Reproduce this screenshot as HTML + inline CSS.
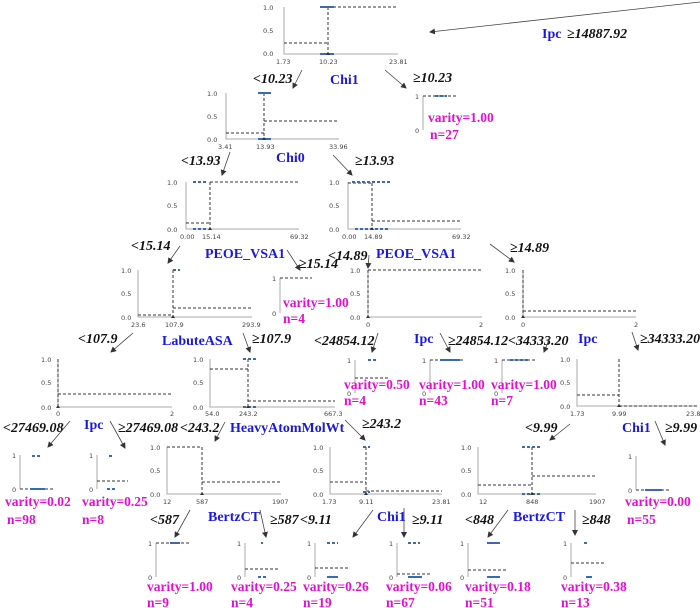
<!DOCTYPE html>
<html><head><meta charset="utf-8"><style>
html,body{margin:0;padding:0;background:#fff}
svg{display:block}
.t{font-family:"DejaVu Sans",sans-serif;font-size:6.5px;fill:#444}
.c{font-family:"Liberation Serif",serif;font-weight:bold;font-style:italic;font-size:14px;fill:#111}
.b{font-family:"Liberation Serif",serif;font-weight:bold;font-size:14px;fill:#1a1adc}
.m{font-family:"Liberation Serif",serif;font-weight:bold;font-size:13.5px;fill:#e010d0}
.ax{stroke:#aaa;stroke-width:1;fill:none}
.d{stroke:#333;stroke-width:1;stroke-dasharray:3,2;fill:none}
.bl{stroke:#3a6ab0;stroke-width:2;stroke-dasharray:3,2}
.ar{stroke:#444;stroke-width:0.8;fill:none;marker-end:url(#h)}
</style></head><body>
<svg width="700" height="608" viewBox="0 0 700 608" xmlns="http://www.w3.org/2000/svg">
<defs><marker id="h" markerWidth="6" markerHeight="6" refX="5" refY="3" orient="auto" markerUnits="userSpaceOnUse"><path d="M0,0 L6,3 L0,6 z" fill="#333"/></marker></defs>

<!-- root chart Chi1 -->
<path class="ax" d="M284,7 V54 H398"/>
<text class="t" x="263" y="10">1.0</text><text class="t" x="263" y="33">0.5</text><text class="t" x="263" y="56">0.0</text>
<text class="t" x="276" y="64">1.73</text><text class="t" x="319" y="64">10.23</text><text class="t" x="389" y="64">23.81</text>
<path class="d" d="M284,43 H328 M328,7 V54 M328,7 H398"/>
<line class="bl" x1="320" y1="7" x2="334" y2="7" style="stroke-dasharray:none"/><line class="bl" x1="320" y1="54" x2="334" y2="54" style="stroke-dasharray:none"/>
<path d="M328,52 l-2,3 h4z" fill="#333"/>
<line class="ar" x1="700" y1="2" x2="430" y2="32"/>
<text class="b" x="542" y="38">Ipc</text><text class="c" x="567" y="38">≥14887.92</text>
<text class="b" x="330" y="84">Chi1</text>
<text class="c" x="253" y="83">&lt;10.23</text><line class="ar" x1="302" y1="70" x2="293" y2="88"/>
<text class="c" x="413" y="82">≥10.23</text><line class="ar" x1="385" y1="70" x2="406" y2="88"/>

<!-- leaf >=10.23 -->
<path class="ax" d="M423,96 V130"/><text class="t" x="415" y="99">1</text><text class="t" x="415" y="133">0</text>
<path class="d" d="M423,96 H457"/><line class="bl" x1="435" y1="96" x2="447" y2="96"/>
<text class="m" x="428" y="122">varity=1.00</text><text class="m" x="430" y="139">n=27</text>

<!-- Chi0 chart -->
<path class="ax" d="M226,93 V139 H339"/>
<text class="t" x="207" y="96">1.0</text><text class="t" x="207" y="119">0.5</text><text class="t" x="207" y="142">0.0</text>
<text class="t" x="218" y="149">3.41</text><text class="t" x="256" y="149">13.93</text><text class="t" x="329" y="149">33.96</text>
<path class="d" d="M226,133 H264 M264,93 V139 M264,121 H339"/>
<line class="bl" x1="258" y1="93" x2="271" y2="93" style="stroke-dasharray:none"/><line class="bl" x1="258" y1="139" x2="271" y2="139" style="stroke-dasharray:none"/>
<path d="M264,137 l-2,3 h4z" fill="#333"/>
<text class="b" x="276" y="162">Chi0</text>
<text class="c" x="181" y="165">&lt;13.93</text><line class="ar" x1="230" y1="152" x2="222" y2="175"/>
<text class="c" x="355" y="165">≥13.93</text><line class="ar" x1="333" y1="155" x2="352" y2="175"/>

<!-- PEOE left -->
<path class="ax" d="M186,182 V229 H299"/>
<text class="t" x="167" y="185">1.0</text><text class="t" x="167" y="208">0.5</text><text class="t" x="167" y="232">0.0</text>
<text class="t" x="180" y="239">0.00</text><text class="t" x="202" y="239">15.14</text><text class="t" x="290" y="239">69.32</text>
<path class="d" d="M186,223 H210 M210,182 V229 M210,182 H299"/>
<line class="bl" x1="193" y1="182" x2="206" y2="182"/><line class="bl" x1="193" y1="229" x2="206" y2="229"/>
<path d="M210,227 l-2,3 h4z" fill="#333"/>
<text class="b" x="205" y="258">PEOE_VSA1</text>
<text class="c" x="131" y="250">&lt;15.14</text><line class="ar" x1="180" y1="246" x2="168" y2="263"/>
<text class="c" x="299" y="268">≥15.14</text><line class="ar" x1="287" y1="250" x2="300" y2="270"/>

<!-- PEOE right -->
<path class="ax" d="M348,182 V229 H461"/>
<text class="t" x="329" y="185">1.0</text><text class="t" x="329" y="208">0.5</text><text class="t" x="329" y="232">0.0</text>
<text class="t" x="342" y="239">0.00</text><text class="t" x="364" y="239">14.89</text><text class="t" x="452" y="239">69.32</text>
<path class="d" d="M348,183 H372 M372,183 V229 M372,221 H461"/>
<line class="bl" x1="352" y1="182" x2="390" y2="182"/><line class="bl" x1="355" y1="229" x2="390" y2="229"/>
<path d="M372,227 l-2,3 h4z" fill="#333"/>
<text class="b" x="376" y="258">PEOE_VSA1</text>
<text class="c" x="328" y="260">&lt;14.89</text><line class="ar" x1="369" y1="255" x2="368" y2="268"/>
<text class="c" x="510" y="252">≥14.89</text><line class="ar" x1="490" y1="244" x2="514" y2="262"/>

<!-- LabuteASA chart -->
<path class="ax" d="M138,270 V317 H252"/>
<text class="t" x="121" y="273">1.0</text><text class="t" x="121" y="296">0.5</text><text class="t" x="121" y="320">0.0</text>
<text class="t" x="131" y="327">23.6</text><text class="t" x="165" y="327">107.9</text><text class="t" x="242" y="327">293.9</text>
<path class="d" d="M138,315 H173 M173,270 V317 M173,308 H252"/>
<line class="bl" x1="173" y1="270" x2="180" y2="270"/>
<path d="M173,315 l-2,3 h4z" fill="#333"/>
<text class="b" x="162" y="345">LabuteASA</text>
<text class="c" x="78" y="343">&lt;107.9</text><line class="ar" x1="133" y1="333" x2="111" y2="352"/>
<text class="c" x="252" y="343">≥107.9</text><line class="ar" x1="243" y1="333" x2="250" y2="352"/>

<!-- leaf >=15.14 -->
<path class="ax" d="M280,278 V313"/><text class="t" x="272" y="281">1</text><text class="t" x="272" y="316">0</text>
<path class="d" d="M280,278 H312"/>
<text class="m" x="283" y="307">varity=1.00</text><text class="m" x="283" y="323">n=4</text>

<!-- PEOE<14.89 chart -->
<path class="ax" d="M368,270 V317 H482"/>
<text class="t" x="350" y="273">1.0</text><text class="t" x="350" y="296">0.5</text><text class="t" x="350" y="320">0.0</text>
<text class="t" x="366" y="327">0</text><text class="t" x="479" y="327">2</text>
<path class="d" d="M368,270 H482 M368,270 V317"/>
<path d="M368,315 l-2,3 h4z" fill="#333"/>

<!-- Ipc >=14.89 chart -->
<path class="ax" d="M523,270 V317 H636"/>
<text class="t" x="505" y="273">1.0</text><text class="t" x="505" y="296">0.5</text><text class="t" x="505" y="320">0.0</text>
<text class="t" x="521" y="327">0</text><text class="t" x="634" y="327">2</text>
<path class="d" d="M523,311 H636 M523,270 V317"/>
<path d="M523,315 l-2,3 h4z" fill="#333"/>

<!-- labels row 5 -->
<text class="c" x="314" y="345">&lt;24854.12</text><line class="ar" x1="378" y1="333" x2="372" y2="352"/>
<text class="b" x="414" y="343">Ipc</text>
<text class="c" x="448" y="345">≥24854.12</text><line class="ar" x1="440" y1="333" x2="450" y2="352"/>
<text class="c" x="508" y="345">&lt;34333.20</text><line class="ar" x1="550" y1="337" x2="544" y2="352"/>
<text class="b" x="578" y="343">Ipc</text>
<text class="c" x="640" y="343">≥34333.20</text><line class="ar" x1="632" y1="332" x2="638" y2="350"/>

<!-- chart I -->
<path class="ax" d="M58,359 V407 H172"/>
<text class="t" x="41" y="362">1.0</text><text class="t" x="41" y="385">0.5</text><text class="t" x="41" y="410">0.0</text>
<text class="t" x="56" y="416">0</text><text class="t" x="170" y="416">2</text>
<path class="d" d="M58,394 H172 M58,359 V407"/>
<path d="M58,405 l-2,3 h4z" fill="#333"/>

<!-- chart J -->
<path class="ax" d="M210,359 V407 H335"/>
<text class="t" x="193" y="362">1.0</text><text class="t" x="193" y="385">0.5</text><text class="t" x="193" y="410">0.0</text>
<text class="t" x="205" y="416">54.0</text><text class="t" x="239" y="416">243.2</text><text class="t" x="324" y="416">667.3</text>
<path class="d" d="M210,369 H248 M248,359 V407 M248,401 H335"/>
<line class="bl" x1="243" y1="359" x2="256" y2="359"/><line class="bl" x1="243" y1="407" x2="256" y2="407"/>
<path d="M248,405 l-2,3 h4z" fill="#333"/>

<!-- leaves from Ipc -->
<path class="ax" d="M355,360 V393"/><text class="t" x="347" y="363">1</text><text class="t" x="347" y="396">0</text>
<path class="d" d="M355,378 H390"/><line class="bl" x1="368" y1="360" x2="376" y2="360"/>
<text class="m" x="344" y="389">varity=0.50</text><text class="m" x="344" y="405">n=4</text>
<path class="ax" d="M430,360 V393"/><text class="t" x="422" y="363">1</text><text class="t" x="422" y="396">0</text>
<path class="d" d="M430,360 H465"/><line class="bl" x1="440" y1="360" x2="460" y2="360" style="stroke-dasharray:none"/>
<text class="m" x="419" y="389">varity=1.00</text><text class="m" x="419" y="405">n=43</text>
<path class="ax" d="M502,360 V393"/><text class="t" x="494" y="363">1</text><text class="t" x="494" y="396">0</text>
<path class="d" d="M502,360 H535"/><line class="bl" x1="510" y1="360" x2="528" y2="360"/>
<text class="m" x="491" y="389">varity=1.00</text><text class="m" x="491" y="405">n=7</text>

<!-- chart L -->
<path class="ax" d="M577,359 V406 H697"/>
<text class="t" x="560" y="362">1.0</text><text class="t" x="560" y="385">0.5</text><text class="t" x="560" y="409">0.0</text>
<text class="t" x="570" y="416">1.73</text><text class="t" x="612" y="416">9.99</text><text class="t" x="686" y="416">23.81</text>
<path class="d" d="M577,395 H619 M619,359 V406 M619,406 H697"/>
<path d="M619,404 l-2,3 h4z" fill="#333"/>

<!-- row 6 labels -->
<text class="c" x="3" y="432">&lt;27469.08</text><line class="ar" x1="70" y1="421" x2="48" y2="447"/>
<text class="b" x="84" y="429">Ipc</text>
<text class="c" x="118" y="432">≥27469.08</text><line class="ar" x1="110" y1="421" x2="125" y2="448"/>
<text class="c" x="180" y="432">&lt;243.2</text><line class="ar" x1="225" y1="422" x2="215" y2="441"/>
<text class="b" x="230" y="432">HeavyAtomMolWt</text>
<text class="c" x="362" y="428">≥243.2</text><line class="ar" x1="345" y1="420" x2="365" y2="440"/>
<text class="c" x="525" y="432">&lt;9.99</text><line class="ar" x1="570" y1="424" x2="550" y2="440"/>
<text class="b" x="622" y="432">Chi1</text>
<text class="c" x="665" y="432">≥9.99</text><line class="ar" x1="655" y1="421" x2="665" y2="445"/>

<!-- leaves M N -->
<path class="ax" d="M20,455 V489"/><text class="t" x="12" y="458">1</text><text class="t" x="12" y="492">0</text>
<path class="d" d="M20,489 H53"/><line class="bl" x1="32" y1="456" x2="42" y2="456"/><line class="bl" x1="30" y1="489" x2="45" y2="489" style="stroke-dasharray:none"/>
<text class="m" x="5" y="506">varity=0.02</text><text class="m" x="7" y="524">n=98</text>
<path class="ax" d="M97,455 V489"/><text class="t" x="89" y="458">1</text><text class="t" x="89" y="492">0</text>
<path class="d" d="M97,481 H128"/><line class="bl" x1="109" y1="456" x2="114" y2="456"/><line class="bl" x1="107" y1="489" x2="116" y2="489"/>
<text class="m" x="82" y="506">varity=0.25</text><text class="m" x="82" y="524">n=8</text>

<!-- chart O -->
<path class="ax" d="M167,447 V494 H281"/>
<text class="t" x="150" y="450">1.0</text><text class="t" x="150" y="473">0.5</text><text class="t" x="150" y="497">0.0</text>
<text class="t" x="163" y="504">12</text><text class="t" x="196" y="504">587</text><text class="t" x="272" y="504">1907</text>
<path class="d" d="M167,447 H202 M202,447 V494 M202,482 H281"/>
<path d="M202,492 l-2,3 h4z" fill="#333"/>

<!-- chart P -->
<path class="ax" d="M330,447 V494 H442"/>
<text class="t" x="313" y="450">1.0</text><text class="t" x="313" y="473">0.5</text><text class="t" x="313" y="497">0.0</text>
<text class="t" x="322" y="504">1.73</text><text class="t" x="359" y="504">9.11</text><text class="t" x="432" y="504">23.81</text>
<path class="d" d="M330,482 H366 M366,447 V494 M366,491 H442"/>
<line class="bl" x1="363" y1="447" x2="370" y2="447"/><line class="bl" x1="363" y1="492" x2="370" y2="492"/>
<path d="M366,492 l-2,3 h4z" fill="#333"/>

<!-- chart Q -->
<path class="ax" d="M478,447 V494 H596"/>
<text class="t" x="461" y="450">1.0</text><text class="t" x="461" y="473">0.5</text><text class="t" x="461" y="497">0.0</text>
<text class="t" x="479" y="504">12</text><text class="t" x="526" y="504">848</text><text class="t" x="589" y="504">1907</text>
<path class="d" d="M478,485 H532 M532,447 V494 M532,476 H596"/>
<line class="bl" x1="522" y1="447" x2="540" y2="447"/><line class="bl" x1="522" y1="494" x2="540" y2="494"/>
<path d="M532,492 l-2,3 h4z" fill="#333"/>

<!-- leaf R -->
<path class="ax" d="M636,456 V490"/><text class="t" x="628" y="459">1</text><text class="t" x="628" y="493">0</text>
<path class="d" d="M636,490 H671"/><line class="bl" x1="645" y1="490" x2="662" y2="490" style="stroke-dasharray:none"/>
<text class="m" x="625" y="506">varity=0.00</text><text class="m" x="627" y="524">n=55</text>

<!-- row 7 labels -->
<text class="c" x="150" y="524">&lt;587</text><line class="ar" x1="190" y1="510" x2="175" y2="537"/>
<text class="b" x="208" y="521">BertzCT</text>
<text class="c" x="270" y="524">≥587</text><line class="ar" x1="260" y1="510" x2="266" y2="537"/>
<text class="c" x="300" y="524">&lt;9.11</text><line class="ar" x1="373" y1="510" x2="353" y2="537"/>
<text class="b" x="377" y="521">Chi1</text>
<text class="c" x="412" y="524">≥9.11</text><line class="ar" x1="404" y1="508" x2="404" y2="537"/>
<text class="c" x="465" y="524">&lt;848</text><line class="ar" x1="508" y1="510" x2="488" y2="537"/>
<text class="b" x="513" y="521">BertzCT</text>
<text class="c" x="582" y="524">≥848</text><line class="ar" x1="575" y1="510" x2="575" y2="535"/>

<!-- bottom leaves -->
<path class="ax" d="M156,543 V577"/><text class="t" x="148" y="546">1</text><text class="t" x="148" y="580">0</text>
<path class="d" d="M156,543 H190"/><line class="bl" x1="170" y1="543" x2="180" y2="543" style="stroke-dasharray:none"/>
<text class="m" x="147" y="591">varity=1.00</text><text class="m" x="147" y="607">n=9</text>
<path class="ax" d="M245,543 V577"/><text class="t" x="237" y="546">1</text><text class="t" x="237" y="580">0</text>
<path class="d" d="M245,569 H280"/><line class="bl" x1="261" y1="543" x2="263" y2="543"/><line class="bl" x1="258" y1="577" x2="266" y2="577"/>
<text class="m" x="231" y="591">varity=0.25</text><text class="m" x="231" y="607">n=4</text>
<path class="ax" d="M315,543 V577"/><text class="t" x="307" y="546">1</text><text class="t" x="307" y="580">0</text>
<path class="d" d="M315,568 H349"/><line class="bl" x1="327" y1="543" x2="338" y2="543"/><line class="bl" x1="327" y1="577" x2="338" y2="577" style="stroke-dasharray:none"/>
<text class="m" x="303" y="591">varity=0.26</text><text class="m" x="303" y="607">n=19</text>
<path class="ax" d="M397,543 V577"/><text class="t" x="389" y="546">1</text><text class="t" x="389" y="580">0</text>
<path class="d" d="M397,574 H430"/><line class="bl" x1="408" y1="543" x2="420" y2="543"/><line class="bl" x1="408" y1="577" x2="422" y2="577" style="stroke-dasharray:none"/>
<text class="m" x="386" y="591">varity=0.06</text><text class="m" x="386" y="607">n=67</text>
<path class="ax" d="M468,543 V577"/><text class="t" x="460" y="546">1</text><text class="t" x="460" y="580">0</text>
<path class="d" d="M468,570 H507"/><line class="bl" x1="487" y1="543" x2="500" y2="543" style="stroke-dasharray:none"/><line class="bl" x1="487" y1="577" x2="500" y2="577" style="stroke-dasharray:none"/>
<text class="m" x="465" y="591">varity=0.18</text><text class="m" x="465" y="607">n=51</text>
<path class="ax" d="M571,543 V577"/><text class="t" x="563" y="546">1</text><text class="t" x="563" y="580">0</text>
<path class="d" d="M571,563 H605"/><line class="bl" x1="584" y1="543" x2="589" y2="543"/><line class="bl" x1="586" y1="577" x2="592" y2="577" style="stroke-dasharray:none"/>
<text class="m" x="561" y="591">varity=0.38</text><text class="m" x="561" y="607">n=13</text>
</svg>
</body></html>
